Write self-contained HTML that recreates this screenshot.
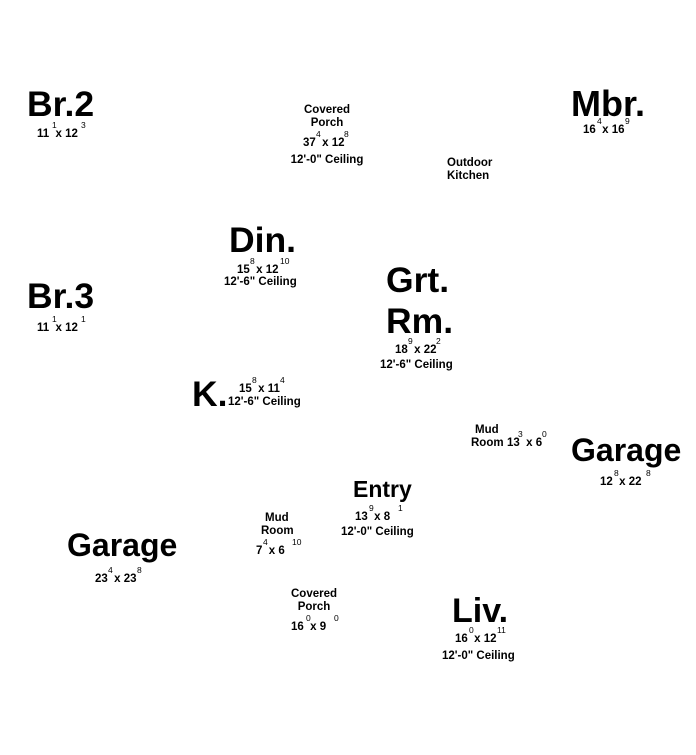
<!DOCTYPE html>
<html><head><meta charset="utf-8"><style>
html,body{margin:0;padding:0;background:#fff;}
svg{display:block}
text{font-family:"Liberation Sans",Arial,sans-serif;font-weight:bold;fill:#000;white-space:pre}
.b{font-size:35.5px}
.s{font-size:11.5px}
.p{font-size:8.5px;font-weight:normal}
</style></head><body>
<svg width="696" height="755" viewBox="0 0 696 755" xmlns="http://www.w3.org/2000/svg" xml:space="preserve">
<text class="b" x="27" y="116">Br.2</text>
<text class="s" x="37" y="137">11  x 12</text>
<text class="p" x="52" y="128">1</text><text class="p" x="81" y="128">3</text>
<text class="s" x="327" y="113" text-anchor="middle">Covered</text>
<text class="s" x="327" y="126" text-anchor="middle">Porch</text>
<text class="s" x="303" y="146">37  x 12</text>
<text class="p" x="316" y="137">4</text><text class="p" x="344" y="137">8</text>
<text class="s" x="327" y="163" text-anchor="middle">12'-0" Ceiling</text>
<text class="b" x="571" y="116" style="font-size:36px">Mbr.</text>
<text class="s" x="583" y="133">16  x 16</text>
<text class="p" x="597" y="124">4</text><text class="p" x="625" y="124">9</text>
<text class="s" x="447" y="166">Outdoor</text>
<text class="s" x="447" y="179">Kitchen</text>
<text class="b" x="229" y="252">Din.</text>
<text class="s" x="237" y="273">15  x 12</text>
<text class="p" x="250" y="264">8</text><text class="p" x="280" y="264">10</text>
<text class="s" x="224" y="285">12'-6" Ceiling</text>
<text class="b" x="27" y="308">Br.3</text>
<text class="s" x="37" y="331">11  x 12</text>
<text class="p" x="52" y="322">1</text><text class="p" x="81" y="322">1</text>
<text class="b" x="386" y="292">Grt.</text>
<text class="b" x="386" y="333">Rm.</text>
<text class="s" x="395" y="353">18  x 22</text>
<text class="p" x="408" y="344">9</text><text class="p" x="436" y="344">2</text>
<text class="s" x="380" y="368">12'-6" Ceiling</text>
<text class="b" x="192" y="406">K.</text>
<text class="s" x="239" y="392">15  x 11</text>
<text class="p" x="252" y="383">8</text><text class="p" x="280" y="383">4</text>
<text class="s" x="228" y="405">12'-6" Ceiling</text>
<text class="s" x="475" y="433">Mud</text>
<text class="s" x="471" y="446">Room</text>
<text class="s" x="507" y="446">13  x 6</text>
<text class="p" x="518" y="437">3</text><text class="p" x="542" y="437">0</text>
<text class="b" x="571" y="461" style="font-size:32px">Garage</text>
<text class="s" x="600" y="485">12  x 22</text>
<text class="p" x="614" y="476">8</text><text class="p" x="646" y="476">8</text>
<text class="b" x="353" y="497" style="font-size:23px">Entry</text>
<text class="s" x="355" y="520">13  x 8</text>
<text class="p" x="369" y="511">9</text><text class="p" x="398" y="511">1</text>
<text class="s" x="341" y="535">12'-0" Ceiling</text>
<text class="s" x="265" y="521">Mud</text>
<text class="s" x="261" y="534">Room</text>
<text class="s" x="256" y="554">7  x 6</text>
<text class="p" x="263" y="545">4</text><text class="p" x="292" y="545">10</text>
<text class="b" x="67" y="556" style="font-size:32px">Garage</text>
<text class="s" x="95" y="582">23  x 23</text>
<text class="p" x="108" y="573">4</text><text class="p" x="137" y="573">8</text>
<text class="s" x="314" y="597" text-anchor="middle">Covered</text>
<text class="s" x="314" y="610" text-anchor="middle">Porch</text>
<text class="s" x="291" y="630">16  x 9</text>
<text class="p" x="306" y="621">0</text><text class="p" x="334" y="621">0</text>
<text class="b" x="452" y="622" style="font-size:34px">Liv.</text>
<text class="s" x="455" y="642">16  x 12</text>
<text class="p" x="469" y="633">0</text><text class="p" x="497" y="633">11</text>
<text class="s" x="442" y="659">12'-0" Ceiling</text>
</svg>
</body></html>
